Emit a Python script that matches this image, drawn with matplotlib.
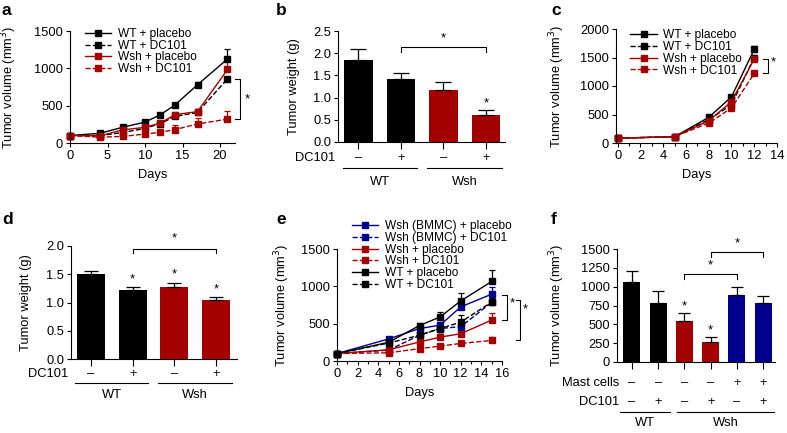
import numpy as np
import matplotlib
matplotlib.use("Agg")
import matplotlib.pyplot as plt

plt.rcParams['font.family'] = ['Liberation Sans', 'DejaVu Sans']
plt.rcParams['font.size'] = 9.3
plt.rcParams['axes.linewidth'] = 0.8
plt.rcParams['xtick.major.size'] = 3
plt.rcParams['ytick.major.size'] = 3
plt.rcParams['xtick.minor.size'] = 2.5
plt.rcParams['xtick.major.width'] = 0.8
plt.rcParams['ytick.major.width'] = 0.8
plt.rcParams['xtick.minor.width'] = 0.8

RED = '#a50000'
BLUE = '#00008c'

# ---- panel a : tumour volume, WT vs Wsh
days_a = [0, 4, 7, 10, 12, 14, 17, 21]
wt_plac_a = [100, 130, 210, 280, 375, 510, 780, 1125]
wt_plac_a_err = [0, 15, 20, 20, 20, 25, 40, 140]
wt_dc_a = [100, 100, 140, 195, 260, 355, 410, 860]
wt_dc_a_err = [0, 10, 15, 15, 15, 20, 20, 20]
wsh_plac_a = [100, 95, 175, 210, 265, 380, 420, 985]
wsh_plac_a_err = [0, 10, 15, 15, 20, 30, 30, 110]
wsh_dc_a = [100, 78, 88, 120, 143, 180, 255, 320]
wsh_dc_a_err = [0, 10, 15, 20, 30, 60, 80, 110]

# ---- panel b : tumour weight
groups_b = ['WT', 'Wsh']
dc_b = ['–', '+', '–', '+']
weight_b = [1.85, 1.41, 1.18, 0.60]
weight_b_err = [0.24, 0.14, 0.18, 0.11]

# ---- panel c : second model
days_c = [0, 5, 8, 10, 12]
wt_plac_c = [85, 110, 450, 810, 1645]
wt_plac_c_err = [0, 5, 25, 30, 60]
wt_dc_c = [85, 110, 410, 670, 1500]
wt_dc_c_err = [0, 5, 20, 30, 50]
wsh_plac_c = [85, 110, 390, 725, 1475]
wsh_plac_c_err = [0, 5, 20, 30, 50]
wsh_dc_c = [85, 110, 350, 615, 1220]
wsh_dc_c_err = [0, 5, 20, 30, 50]

# ---- panel d : tumour weight, second model
dc_d = ['–', '+', '–', '+']
weight_d = [1.50, 1.22, 1.28, 1.04]
weight_d_err = [0.06, 0.05, 0.07, 0.05]

# ---- panel e : mast cell reconstitution
days_e = [0, 5, 8, 10, 12, 15]
bmmc_plac_e = [100, 295, 435, 480, 725, 895]
bmmc_plac_e_err = [0, 20, 30, 40, 40, 100]
bmmc_dc_e = [100, 145, 345, 435, 460, 785]
bmmc_dc_e_err = [0, 15, 30, 30, 30, 40]
wsh_plac_e = [100, 150, 255, 320, 365, 548]
wsh_plac_e_err = [0, 15, 20, 40, 40, 100]
wsh_dc_e = [100, 110, 165, 200, 235, 275]
wsh_dc_e_err = [0, 10, 20, 30, 30, 50]
wt_plac_e = [100, 250, 475, 590, 805, 1065]
wt_plac_e_err = [0, 20, 30, 60, 110, 150]
wt_dc_e = [100, 240, 345, 435, 520, 790]
wt_dc_e_err = [0, 15, 20, 30, 90, 50]

# ---- panel f : tumour volume bars
mast_f = ['–', '–', '–', '–', '+', '+']
dc_f = ['–', '+', '–', '+', '–', '+']
vol_f = [1065, 778, 545, 268, 890, 780]
vol_f_err = [145, 165, 100, 66, 110, 98]

W, H = 787, 433
fig = plt.figure(figsize=(W / 100, H / 100), dpi=100)


def add_ax(l, t, r, b):
    ax = fig.add_axes([l / W, 1 - b / H, (r - l) / W, (b - t) / H])
    ax.spines['top'].set_visible(False)
    ax.spines['right'].set_visible(False)
    ax.tick_params(pad=2)
    ax._px = (t, b)
    return ax


def yfrac(ax, ypx):
    t, b = ax._px
    return (b - ypx) / (b - t)


def plot_line(ax, x, y, err, color, ls, label):
    c = ax.errorbar(x, y, yerr=[np.zeros(len(err)), err], color=color, ls=ls,
                    marker='s', ms=4.3, lw=1, elinewidth=0.9, capsize=2.4,
                    capthick=0.9, clip_on=False)
    c[0].set_label(label)
    return c[0]


def bracket(ax, x, y0, y1, dx):
    ax.plot([x - dx, x, x, x - dx], [y0, y0, y1, y1], color='black', lw=0.8,
            clip_on=False)


def top_bracket(ax, x0, x1, y, dy):
    ax.plot([x0, x0, x1, x1], [y - dy, y, y, y - dy], color='black', lw=0.8,
            clip_on=False)


def star(ax, x, y):
    ax.text(x, y, '*', ha='center', va='center', fontsize=9.5, clip_on=False)


def panel_label(txt, x, y):
    fig.text(x / W, 1 - y / H, txt, fontsize=12.5, fontweight='bold',
             va='top')


def bar_rows(ax, rows, labels, label_x, groups, spans, ly, gy):
    # rows: list of (ypx, marks)
    xt = ax.get_xaxis_transform()
    for (ypx, marks), lab in zip(rows, labels):
        for i, m in enumerate(marks):
            ax.text(i, yfrac(ax, ypx), m, transform=xt, ha='center',
                    va='center', clip_on=False)
        ax.text(label_x, yfrac(ax, ypx), lab, transform=xt, ha='right',
                va='center', clip_on=False)
    for g, (x0, x1) in zip(groups, spans):
        ax.plot([x0, x1], [yfrac(ax, gy)] * 2, transform=xt, color='black',
                lw=0.8, clip_on=False)
        ax.text((x0 + x1) / 2, yfrac(ax, ly), g, transform=xt, ha='center',
                va='center', clip_on=False)


leg_kw = dict(frameon=False, handlelength=2.2, labelspacing=-0.02,
              handletextpad=0.55, borderaxespad=0, fontsize=8.6, numpoints=1)

# ---------------- a
ax = add_ax(70, 31, 235, 143)
hs = [plot_line(ax, days_a, wt_plac_a, wt_plac_a_err, 'black', '-', 'WT + placebo'),
      plot_line(ax, days_a, wt_dc_a, wt_dc_a_err, 'black', '--', 'WT + DC101'),
      plot_line(ax, days_a, wsh_plac_a, wsh_plac_a_err, RED, '-', 'Wsh + placebo'),
      plot_line(ax, days_a, wsh_dc_a, wsh_dc_a_err, RED, '--', 'Wsh + DC101')]
ax.set_xlim(0, 22)
ax.set_ylim(0, 1500)
ax.set_xticks([0, 5, 10, 15, 20])
ax.set_yticks([0, 500, 1000, 1500])
ax.set_xlabel('Days', labelpad=5)
ax.set_ylabel('Tumor volume (mm$^3$)')
ax.yaxis.set_label_coords(-0.31, 0.5)
ax.legend(handles=hs, loc='upper left', bbox_to_anchor=(0.06, 1.07), **leg_kw)
bracket(ax, 22.7, wt_dc_a[-1], wsh_dc_a[-1], 0.7)
star(ax, 23.6, 590)
panel_label('a', 2, 3)

# ---------------- b
ax = add_ax(338, 31, 505, 142)
xb = np.arange(len(weight_b))
ax.bar(xb, weight_b, width=0.67, color=['black', 'black', RED, RED])
ax.errorbar(xb, weight_b, yerr=[np.zeros(4), weight_b_err], fmt='none',
            ecolor='black', elinewidth=0.9, capsize=6, capthick=0.9)
ax.set_xlim(-0.48, 3.45)
ax.set_ylim(0, 2.5)
ax.set_yticks([0, 0.5, 1.0, 1.5, 2.0, 2.5])
ax.set_yticklabels(['0.0', '0.5', '1.0', '1.5', '2.0', '2.5'])
ax.set_xticks(xb)
ax.set_xticklabels([])
ax.tick_params(axis='x', length=5)
ax.set_ylabel('Tumor weight (g)')
ax.yaxis.set_label_coords(-0.228, 0.5)
bar_rows(ax, [(158, dc_b)], ['DC101'], -0.55, groups_b,
         [(-0.36, 1.38), (1.62, 3.38)], 182, 168)
top_bracket(ax, 1, 3, 2.14, 0.11)
star(ax, 2, 2.34)
star(ax, 3, 0.86)
panel_label('b', 276, 3)

# ---------------- c
ax = add_ax(616, 29, 777, 143)
hs = [plot_line(ax, days_c, wt_plac_c, wt_plac_c_err, 'black', '-', 'WT + placebo'),
      plot_line(ax, days_c, wt_dc_c, wt_dc_c_err, 'black', '--', 'WT + DC101'),
      plot_line(ax, days_c, wsh_plac_c, wsh_plac_c_err, RED, '-', 'Wsh + placebo'),
      plot_line(ax, days_c, wsh_dc_c, wsh_dc_c_err, RED, '--', 'Wsh + DC101')]
ax.set_xlim(-0.15, 14)
ax.set_ylim(0, 2000)
ax.set_xticks(np.arange(0, 15, 2))
ax.set_xticks(np.arange(1, 14, 2), minor=True)
ax.set_yticks([0, 500, 1000, 1500, 2000])
ax.set_xlabel('Days', labelpad=5)
ax.set_ylabel('Tumor volume (mm$^3$)')
ax.yaxis.set_label_coords(-0.305, 0.5)
ax.legend(handles=hs, loc='upper left', bbox_to_anchor=(0.06, 1.04), **leg_kw)
bracket(ax, 13.2, wsh_plac_c[-1], wsh_dc_c[-1], 0.45)
star(ax, 13.65, 1420)
panel_label('c', 551, 3)

# ---------------- d
ax = add_ax(71, 246, 237, 359)
xd = np.arange(len(weight_d))
ax.bar(xd, weight_d, width=0.67, color=['black', 'black', RED, RED])
ax.errorbar(xd, weight_d, yerr=[np.zeros(4), weight_d_err], fmt='none',
            ecolor='black', elinewidth=0.9, capsize=5, capthick=0.9)
ax.set_xlim(-0.48, 3.5)
ax.set_ylim(0, 2.0)
ax.set_yticks([0, 0.5, 1.0, 1.5, 2.0])
ax.set_yticklabels(['0.0', '0.5', '1.0', '1.5', '2.0'])
ax.set_xticks(xd)
ax.set_xticklabels([])
ax.tick_params(axis='x', length=5)
ax.set_ylabel('Tumor weight (g)')
ax.yaxis.set_label_coords(-0.235, 0.5)
bar_rows(ax, [(374, dc_d)], ['DC101'], -0.55, groups_b,
         [(-0.38, 1.37), (1.61, 3.38)], 395, 383)
top_bracket(ax, 1, 3, 1.95, 0.08)
star(ax, 2, 2.14)
for i in [1, 2, 3]:
    star(ax, i, weight_d[i] + weight_d_err[i] + 0.14)
panel_label('d', 2, 212)

# ---------------- e
ax = add_ax(337, 249, 502, 361)
hs = [plot_line(ax, days_e, bmmc_plac_e, bmmc_plac_e_err, BLUE, '-',
                'Wsh (BMMC) + placebo'),
      plot_line(ax, days_e, bmmc_dc_e, bmmc_dc_e_err, BLUE, '--',
                'Wsh (BMMC) + DC101'),
      plot_line(ax, days_e, wsh_plac_e, wsh_plac_e_err, RED, '-', 'Wsh + placebo'),
      plot_line(ax, days_e, wsh_dc_e, wsh_dc_e_err, RED, '--', 'Wsh + DC101'),
      plot_line(ax, days_e, wt_plac_e, wt_plac_e_err, 'black', '-', 'WT + placebo'),
      plot_line(ax, days_e, wt_dc_e, wt_dc_e_err, 'black', '--', 'WT + DC101')]
ax.set_xlim(0, 16)
ax.set_ylim(0, 1500)
ax.set_xticks(np.arange(0, 17, 2))
ax.set_xticks(np.arange(1, 16, 2), minor=True)
ax.set_yticks([0, 500, 1000, 1500])
ax.set_xlabel('Days', labelpad=5)
ax.set_ylabel('Tumor volume (mm$^3$)')
ax.yaxis.set_label_coords(-0.273, 0.5)
ax.legend(handles=hs, loc='upper left', bbox_to_anchor=(0.06, 1.30), **leg_kw)
bracket(ax, 16.5, 885, wsh_plac_e[-1], 0.5)
star(ax, 16.95, 770)
bracket(ax, 17.75, 818, wsh_dc_e[-1], 0.35)
star(ax, 18.3, 690)
panel_label('e', 276, 212)

# ---------------- f
ax = add_ax(617, 249, 775, 362)
xf = np.arange(len(vol_f))
ax.bar(xf, vol_f, width=0.65, color=['black', 'black', RED, RED, BLUE, BLUE])
ax.errorbar(xf, vol_f, yerr=[np.zeros(6), vol_f_err], fmt='none',
            ecolor='black', elinewidth=0.9, capsize=4.5, capthick=0.9)
ax.set_xlim(-0.57, 5.45)
ax.set_ylim(0, 1500)
ax.set_yticks(np.arange(0, 1501, 250))
ax.set_xticks(xf)
ax.set_xticklabels([])
ax.tick_params(axis='x', length=5)
ax.set_ylabel('Tumor volume (mm$^3$)')
ax.yaxis.set_label_coords(-0.316, 0.5)
bar_rows(ax, [(383, mast_f), (402, dc_f)], ['Mast cells', 'DC101'], -0.5,
         groups_b, [(-0.45, 1.44), (1.7, 5.42)], 423, 412)
top_bracket(ax, 2, 4, 1165, 60)
star(ax, 3, 1285)
top_bracket(ax, 3, 5, 1455, 60)
star(ax, 4, 1575)
for i in [2, 3]:
    star(ax, i, vol_f[i] + vol_f_err[i] + 90)
panel_label('f', 551, 212)

fig.savefig('out.png', dpi=100)
